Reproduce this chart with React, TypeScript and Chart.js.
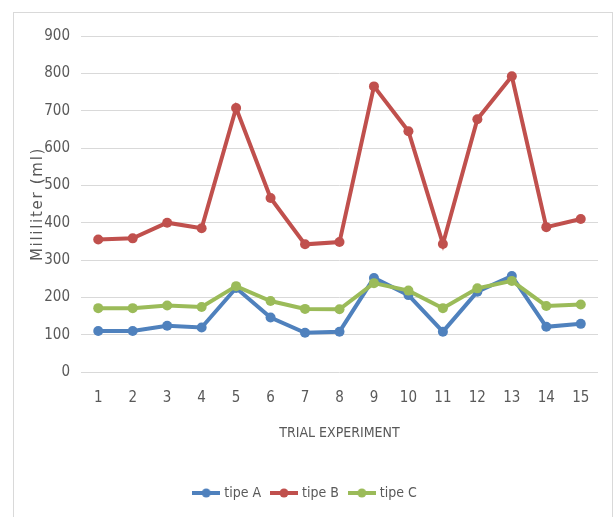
import React, { useEffect, useRef } from "react";
import { Chart, registerables } from "chart.js";

Chart.register(...registerables);

const categories = ["1", "2", "3", "4", "5", "6", "7", "8", "9", "10", "11", "12", "13", "14", "15"];
const tipeA = [110, 110, 124, 119, 225, 146, 105, 108, 252, 206, 108, 215, 257, 121, 129];
const tipeB = [355, 358, 400, 385, 707, 466, 342, 348, 765, 645, 343, 677, 792, 388, 410];
const tipeC = [171, 171, 178, 174, 230, 190, 169, 168, 238, 218, 171, 224, 244, 177, 181];
const seriesNames = ["tipe A", "tipe B", "tipe C"];
const seriesColors = ["#4F81BD", "#C0504D", "#9BBB59"];
const yMin = 0;
const yMax = 900;
const yStep = 100;
const xTitle = "TRIAL EXPERIMENT";
const yTitle = "Mililiter (ml)";

const NARROW = "'Liberation Sans Narrow', 'DejaVu Sans Condensed', 'Arial Narrow', sans-serif";
const TEXT = "#595959";

function legendIcon(color: string): HTMLCanvasElement {
  const c = document.createElement("canvas");
  c.width = 28;
  c.height = 12;
  const ctx = c.getContext("2d")!;
  ctx.strokeStyle = color;
  ctx.lineWidth = 4;
  ctx.beginPath();
  ctx.moveTo(0, 6);
  ctx.lineTo(28, 6);
  ctx.stroke();
  ctx.fillStyle = color;
  ctx.beginPath();
  ctx.arc(14, 6, 4.5, 0, Math.PI * 2);
  ctx.fill();
  return c;
}

const spacedTitlePlugin = {
  id: "spacedYTitle",
  afterUpdate(chart: any) {
    const s = chart.scales && chart.scales.y;
    if (!s || s.__spaced) return;
    const orig = s.drawTitle.bind(s);
    s.drawTitle = function () {
      const ctx = chart.ctx as any;
      const prev = ctx.letterSpacing;
      ctx.letterSpacing = "1.7px";
      orig();
      ctx.letterSpacing = prev || "0px";
    };
    s.__spaced = true;
  },
};

export default function App() {
  const ref = useRef<HTMLCanvasElement | null>(null);

  useEffect(() => {
    if (!ref.current) return;
    const series = [tipeA, tipeB, tipeC];
    const icons = seriesColors.map(legendIcon);
    const chart = new Chart(ref.current, {
      type: "line",
      plugins: [spacedTitlePlugin],
      data: {
        labels: categories,
        datasets: series.map((d, i) => ({
          label: seriesNames[i],
          data: d,
          borderColor: seriesColors[i],
          backgroundColor: seriesColors[i],
          pointBackgroundColor: seriesColors[i],
          pointBorderColor: seriesColors[i],
          borderWidth: 4,
          pointRadius: 5,
          pointBorderWidth: 0,
          tension: 0,
          fill: false,
          order: 2 - i,
        })),
      },
      options: {
        animation: false,
        responsive: false,
        maintainAspectRatio: false,
        devicePixelRatio: 1,
        layout: { padding: { left: 0, right: 14, top: 23, bottom: 0 } },
        plugins: {
          tooltip: { enabled: false },
          title: { display: false },
          legend: {
            position: "bottom",
            labels: {
              usePointStyle: true,
              pointStyleWidth: 22,
              padding: 12,
              color: TEXT,
              font: { family: NARROW, size: 14 },
              generateLabels: (ch: any) =>
                ch.data.datasets.map((ds: any, i: number) => ({
                  text: ds.label,
                  fillStyle: seriesColors[i],
                  strokeStyle: seriesColors[i],
                  lineWidth: 0,
                  pointStyle: icons[i],
                  hidden: false,
                  datasetIndex: i,
                  fontColor: TEXT,
                })),
            },
          },
        },
        scales: {
          x: {
            offset: true,
            grid: { display: false, drawTicks: false },
            border: { display: false },
            ticks: { color: TEXT, font: { family: NARROW, size: 15 }, padding: 17, maxRotation: 0, autoSkip: false },
            title: {
              display: true,
              text: xTitle,
              color: TEXT,
              font: { family: NARROW, size: 14 },
              padding: { top: 0, bottom: 32 },
            },
            afterFit: (s: any) => {
              s.height = 102;
            },
          },
          y: {
            min: yMin,
            max: yMax,
            grid: { color: "#d9d9d9", lineWidth: 1, drawTicks: false },
            border: { display: false },
            ticks: { stepSize: yStep, color: TEXT, font: { family: NARROW, size: 15 }, padding: 11 },
            title: {
              display: true,
              text: yTitle,
              color: TEXT,
              font: { family: "'DejaVu Sans', sans-serif", size: 15 },
              padding: { top: 15, bottom: 0 },
            },
            afterFit: (s: any) => {
              s.width = 67;
            },
          },
        },
      },
    });
    return () => chart.destroy();
  }, []);

  return (
    <div
      style={{
        position: "fixed",
        left: 13,
        top: 12,
        width: 598,
        height: 520,
        border: "1px solid #d9d9d9",
        background: "#fff",
        overflow: "hidden",
      }}
    >
      <canvas ref={ref} width={598} height={497} style={{ display: "block" }} />
    </div>
  );
}
